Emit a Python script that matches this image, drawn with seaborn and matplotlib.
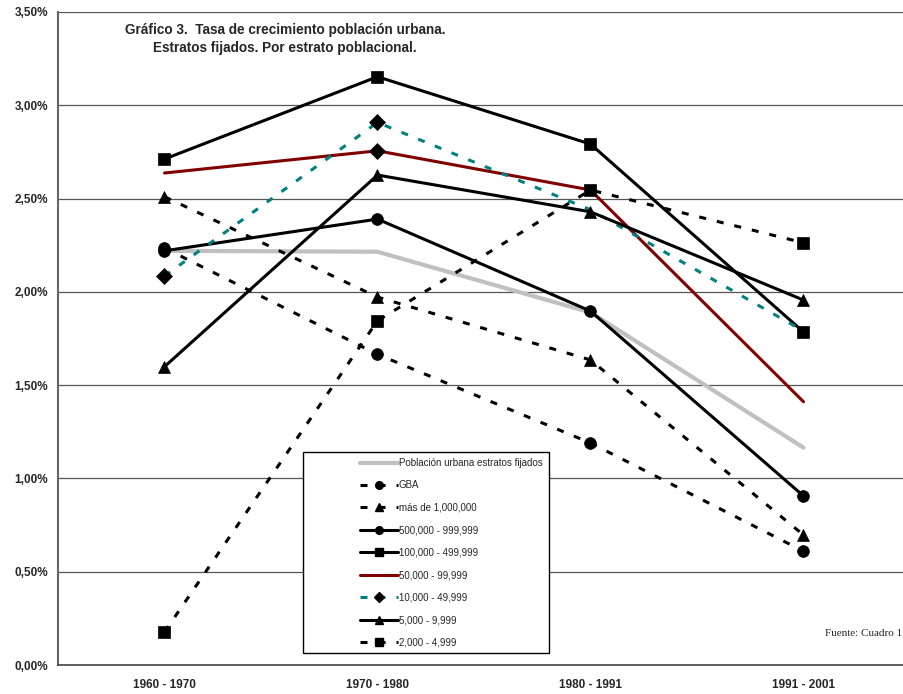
import numpy as np
import seaborn as sns
import matplotlib.pyplot as plt
from matplotlib.lines import Line2D
from matplotlib.patches import Rectangle
from matplotlib.ticker import FuncFormatter

### Datos: tasa de crecimiento (%) por periodo ###
periodos = ["1960 - 1970", "1970 - 1980", "1980 - 1991", "1991 - 2001"]

urbana = [2.22, 2.215, 1.89, 1.165]
gba = [2.235, 1.665, 1.19, 0.61]
mas_1m = [2.51, 1.972, 1.635, 0.697]
e500k = [2.22, 2.39, 1.897, 0.906]
e100k = [2.712, 3.153, 2.792, 1.785]
e50k = [2.637, 2.756, 2.546, 1.411]
e10k = [2.085, 2.908, 2.44, 1.79]
e5k = [1.599, 2.626, 2.429, 1.956]
e2k = [0.177, 1.845, 2.546, 2.263]

nombres = ["Población urbana estratos fijados", "GBA", "más de 1,000,000",
           "500,000 - 999,999", "100,000 - 499,999", "50,000 - 99,999",
           "10,000 - 49,999", "5,000 - 9,999", "2,000 - 4,999"]
valores = [urbana, gba, mas_1m, e500k, e100k, e50k, e10k, e5k, e2k]

sns.set_style("white")
plt.rcParams['font.family'] = ['Liberation Sans', 'DejaVu Sans']

dash = (0, (2.3, 3.6))
# color, linestyle, marker, linewidth, markevery
estilos = [
    ("#c0c0c0", "-", "", 3.0, None),
    ("black", dash, "o", 2.2, None),
    ("black", dash, "^", 2.2, None),
    ("black", "-", "o", 2.2, None),
    ("black", "-", "s", 2.2, None),
    ("#800000", "-", "D", 2.2, [1]),
    ("#008080", dash, "D", 2.2, [0, 1]),
    ("black", "-", "^", 2.2, None),
    ("black", dash, "s", 2.2, None),
]

fig = plt.figure(figsize=(9.04, 6.94), dpi=100)
ax = fig.add_axes([58 / 904, 29 / 694, 852 / 904, 653 / 694])

x = np.arange(len(periodos))
for vals, (col, ls, mk, lw, mev) in zip(valores, estilos):
    sns.lineplot(x=x, y=vals, ax=ax, color=col, linestyle=ls, lw=lw,
                 marker=mk, markevery=mev, markersize=8.5,
                 markerfacecolor="black", markeredgecolor="black",
                 markeredgewidth=0.5, errorbar=None, zorder=3)

ax.set_xlim(-0.5, 3.5)
ax.set_ylim(0, 3.5)
ax.set_xticks(x)
ax.set_xticklabels(periodos, fontweight="bold", fontsize=8.5)
ax.set_xticks([0.5, 1.5, 2.5], minor=True)
ax.tick_params(axis="x", which="major", length=0, pad=10)
ax.tick_params(axis="x", which="minor", length=3, width=1, color="#555555", direction="out")
ax.set_yticks(np.arange(0, 3.51, 0.5))
ax.yaxis.set_major_formatter(FuncFormatter(lambda v, p: f"{v:.2f}%".replace(".", ",")))
ax.tick_params(axis="y", length=3, width=1, color="#555555", direction="out", pad=4, labelsize=8.5)
for lab in ax.get_yticklabels():
    lab.set_fontweight("bold")
ax.yaxis.grid(True, color="#555555", lw=0.9)
ax.xaxis.grid(False)
ax.set_axisbelow(True)
ax.set_xlabel("")
ax.set_ylabel("")
sns.despine(ax=ax, top=True, right=True)
ax.spines["left"].set_color("#666666")
ax.spines["left"].set_linewidth(1.5)
ax.spines["bottom"].set_color("#444444")
ax.spines["bottom"].set_linewidth(1.2)

### Titulo y fuente ###
fig.text(0.315, 1 - 39 / 694,
         "Gráfico 3.  Tasa de crecimiento población urbana.\nEstratos fijados. Por estrato poblacional.",
         ha="center", va="center", fontsize=9.8, fontweight="bold", linespacing=1.4)
fig.text(902 / 904, 1 - 634 / 694, "Fuente: Cuadro 1", ha="right", va="center",
         fontsize=8, family="Liberation Serif")

### Leyenda ###
handles = []
for col, ls, mk, lw, mev in estilos:
    if col == "#800000":
        mk = ""
    handles.append(Line2D([], [], color=col, linestyle=ls, lw=lw, marker=mk,
                          markersize=5.5, markerfacecolor="black", markeredgecolor="black"))
fig.add_artist(Rectangle((303 / 904, 1 - 653 / 694), 246 / 904, 201 / 694,
                         transform=fig.transFigure, facecolor="white",
                         edgecolor="black", lw=1, zorder=4))
leg = fig.legend(handles, nombres, loc="upper left",
                 bbox_to_anchor=(360 / 904, 1 - 458 / 694), frameon=False,
                 fontsize=7, handlelength=3.9, handletextpad=0.1,
                 labelspacing=1.28, borderpad=0, borderaxespad=0)
leg.set_zorder(5)

fig.savefig("out.png", dpi=100)
